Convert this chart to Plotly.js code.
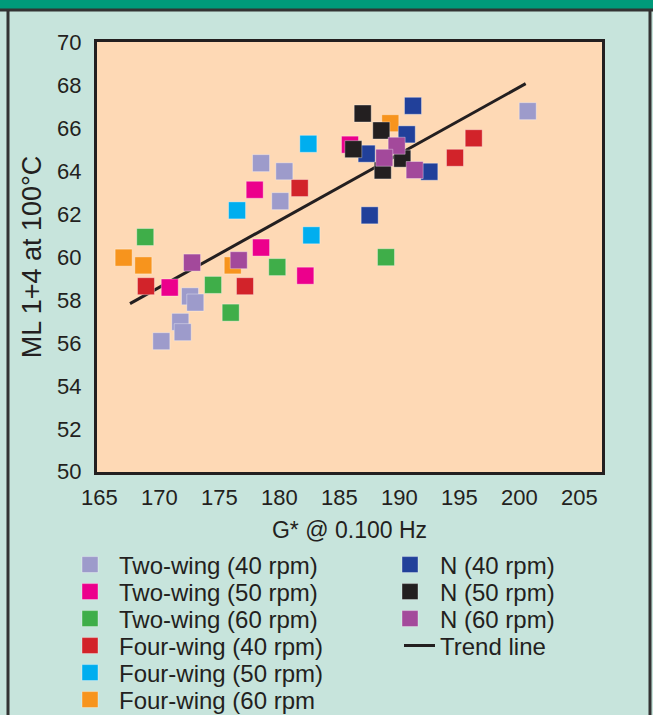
<!DOCTYPE html>
<html>
<head>
<meta charset="utf-8">
<script src="https://cdn.plot.ly/plotly-3.0.1.min.js"></script>
<style>
  html, body { margin: 0; padding: 0; background: #c7e4dc; }
  #chart { width: 653px; height: 715px; }
</style>
</head>
<body>
<div id="chart"></div>
<script>
// ---- Data ----
const seriesNames = [
  "Two-wing (40 rpm)", "Two-wing (50 rpm)", "Two-wing (60 rpm)",
  "Four-wing (40 rpm)", "Four-wing (50 rpm)", "Four-wing (60 rpm",
  "N (40 rpm)", "N (50 rpm)", "N (60 rpm)"
];
const seriesColors = ["#9d9bcb", "#ec008c", "#3fae49", "#d2232a", "#00aeef", "#f7941d", "#21409a", "#231f20", "#a3499b"];

const twoWing40X = [178.48, 180.42, 180.08, 200.70, 172.56, 173.00, 171.75, 171.95, 170.17];
const twoWing40Y = [64.37, 63.99, 62.60, 66.79, 58.17, 57.88, 56.98, 56.50, 56.08];

const twoWing50X = [177.95, 185.89, 178.48, 182.17, 170.87];
const twoWing50Y = [63.13, 65.23, 60.44, 59.13, 58.58];

const twoWing60X = [168.83, 179.83, 174.48, 175.95, 188.89];
const twoWing60Y = [60.93, 59.53, 58.70, 57.41, 59.99];

const fourWing40X = [181.70, 168.89, 177.14, 196.20, 194.64];
const fourWing40Y = [63.21, 58.64, 58.64, 65.53, 64.62];

const fourWing50X = [182.42, 176.48, 182.67];
const fourWing50Y = [65.27, 62.17, 61.01];

const fourWing60X = [167.03, 168.67, 176.12, 189.25];
const fourWing60Y = [59.97, 59.61, 59.61, 66.23];

const n40X = [191.14, 190.62, 187.28, 192.50, 187.53];
const n40Y = [67.04, 65.71, 64.81, 63.97, 61.94];

const n50X = [186.95, 188.50, 186.17, 190.25, 188.62];
const n50Y = [66.68, 65.89, 65.02, 64.58, 64.03];

const n60X = [189.78, 188.75, 191.28, 172.73, 176.62];
const n60Y = [65.18, 64.62, 64.05, 59.74, 59.85];

const trendX = [167.56, 200.53];
const trendY = [57.83, 68.07];
const trendName = "Trend line";

const xTicks = [165, 170, 175, 180, 185, 190, 195, 200, 205];
const yTicks = [50, 52, 54, 56, 58, 60, 62, 64, 66, 68, 70];

const xTitle = "G* @ 0.100 Hz";
const yTitle = "ML 1+4 at 100°C";

// ---- Layout geometry ----
const W = 653, H = 715;
const M = { l: 97, r: 51, t: 42, b: 243, autoexpand: false };
const PW = W - M.l - M.r, PH = H - M.t - M.b;
const px2x = p => (p - M.l) / PW;
const py2y = p => (H - M.b - p) / PH;

const font = 'Liberation Sans, Arial, Helvetica, sans-serif';
const ink = '#231f20';

const allX = [twoWing40X, twoWing50X, twoWing60X, fourWing40X, fourWing50X, fourWing60X, n40X, n50X, n60X];
const allY = [twoWing40Y, twoWing50Y, twoWing60Y, fourWing40Y, fourWing50Y, fourWing60Y, n40Y, n50Y, n60Y];

// legend slots: [column, row]
const slots = [[0,0],[0,1],[0,2],[0,3],[0,4],[0,5],[1,0],[1,1],[1,2]];
const rowY = [565, 592, 619, 646, 673, 700];

const traces = [];
// trend line first (drawn under markers)
traces.push({
  type: 'scatter', mode: 'lines', x: trendX, y: trendY, name: trendName,
  line: { color: ink, width: 3 }, legend: 'legend10', hoverinfo: 'skip'
});
seriesNames.forEach((nm, i) => {
  traces.push({
    type: 'scatter', mode: 'markers', x: allX[i], y: allY[i], name: nm,
    marker: { symbol: 'square', size: 17, color: seriesColors[i], line: { color: 'rgba(255,255,255,0.35)', width: 1 } },
    legend: i === 0 ? 'legend' : 'legend' + (i + 1)
  });
});

const layout = {
  width: W, height: H,
  margin: M,
  paper_bgcolor: '#c7e4dc',
  plot_bgcolor: '#fed9b5',
  font: { family: font, color: ink, size: 22 },
  xaxis: {
    range: [164.81, 206.89], tickvals: xTicks, ticks: '', showgrid: false, zeroline: false,
    showline: true, mirror: true, linecolor: ink, linewidth: 3,
    tickfont: { size: 22, color: ink }, ticklabelstandoff: 4,
    title: { text: xTitle, font: { size: 23, color: ink }, standoff: 13 },
    fixedrange: true
  },
  yaxis: {
    range: [49.99, 70.01], tickvals: yTicks, ticks: '', showgrid: false, zeroline: false,
    showline: true, mirror: true, linecolor: ink, linewidth: 3,
    tickfont: { size: 22, color: ink }, ticklabelstandoff: 8,
    title: { text: yTitle, font: { size: 27, color: ink }, standoff: 8 },
    fixedrange: true
  },
  showlegend: true,
  shapes: [
    { type: 'rect', xref: 'paper', yref: 'paper', x0: px2x(-5), x1: px2x(W + 5), y0: py2y(10), y1: py2y(-5), fillcolor: '#009a7a', line: { width: 0 }, layer: 'below' },
    { type: 'line', xref: 'paper', yref: 'paper', x0: px2x(0), x1: px2x(W), y0: py2y(10), y1: py2y(10), line: { color: '#333333', width: 3 } },
    { type: 'line', xref: 'paper', yref: 'paper', x0: px2x(8), x1: px2x(8), y0: py2y(10), y1: py2y(H + 5), line: { color: '#333333', width: 3 } },
    { type: 'line', xref: 'paper', yref: 'paper', x0: px2x(650), x1: px2x(650), y0: py2y(10), y1: py2y(H + 5), line: { color: '#333333', width: 3 } }
  ]
};

// one legend per entry to reproduce the two-column layout and row spacing
const legendFont = { size: 24, color: ink, family: font };
slots.forEach((s, i) => {
  const key = i === 0 ? 'legend' : 'legend' + (i + 1);
  const col = s[0];
  const iw = col === 0 ? 48 : 50;
  const textStart = col === 0 ? 119 : 440;
  layout[key] = {
    x: px2x(textStart - (iw + 10)), xanchor: 'left',
    y: py2y(rowY[s[1]]), yanchor: 'middle',
    bgcolor: 'rgba(0,0,0,0)', borderwidth: 0, font: legendFont,
    itemwidth: iw, itemsizing: 'trace'
  };
});
layout['legend10'] = {
  x: px2x(440 - 41), xanchor: 'left', y: py2y(rowY[3]), yanchor: 'middle',
  bgcolor: 'rgba(0,0,0,0)', borderwidth: 0, font: legendFont, itemwidth: 31
};

Plotly.newPlot('chart', traces, layout, { displayModeBar: false, staticPlot: true });
</script>
</body>
</html>
